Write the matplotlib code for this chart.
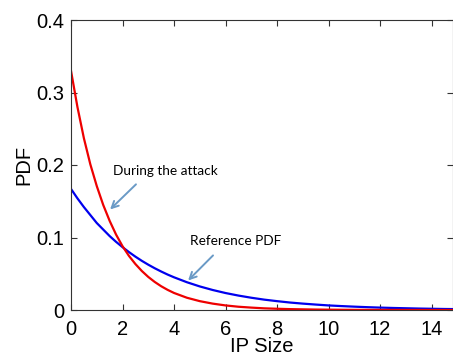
import matplotlib
matplotlib.use("Agg")
import matplotlib.pyplot as plt

# values
ip_size = [0, 0.25, 0.5, 0.75, 1, 1.25, 1.5, 1.75, 2, 2.25, 2.5, 2.75, 3, 3.25,
           3.5, 3.75, 4, 4.5, 5, 5.5, 6, 6.5, 7, 7.5, 8, 8.5, 9, 9.5, 10, 10.5,
           11, 11.5, 12, 12.5, 13, 13.5, 14, 14.5, 15]
pdf_attack = [0.330, 0.280, 0.237, 0.201, 0.171, 0.145, 0.123, 0.104, 0.088,
              0.0746, 0.0634, 0.0538, 0.0456, 0.0387, 0.0328, 0.0278, 0.0235,
              0.0169, 0.0122, 0.0088, 0.0063, 0.0045, 0.0033, 0.0023, 0.0017,
              0.0012, 0.0009, 0.0006, 0.00045, 0.0003, 0.0002, 0.00015, 0.0001,
              0.0001, 0.00005, 0.00005, 0.0, 0.0, 0.0]
pdf_reference = [0.167, 0.154, 0.142, 0.131, 0.120, 0.111, 0.102, 0.094, 0.0867,
                 0.0799, 0.0736, 0.0678, 0.0625, 0.0576, 0.0531, 0.0489, 0.0451,
                 0.0383, 0.0325, 0.0276, 0.0234, 0.0199, 0.0169, 0.0143, 0.0122,
                 0.0103, 0.0088, 0.0075, 0.0063, 0.0054, 0.0046, 0.0039, 0.0033,
                 0.0028, 0.0024, 0.0020, 0.0017, 0.0014, 0.0012]
x_ticks = [0, 2, 4, 6, 8, 10, 12, 14]
y_ticks = [0, 0.1, 0.2, 0.3, 0.4]
y_tick_labels = ["0", "0.1", "0.2", "0.3", "0.4"]

plt.rcParams['font.family'] = ['Liberation Sans', 'DejaVu Sans']

fig = plt.figure(figsize=(4.53, 3.58), dpi=100)
ax = fig.add_axes([71/453, 1 - 310/358, (453 - 71)/453, (310 - 20)/358])

ax.plot(ip_size, pdf_reference, color='#0000ee', lw=1.6)
ax.plot(ip_size, pdf_attack, color='#ee0000', lw=1.6)

ax.set_xlim(0, 14.83)
ax.set_ylim(0, 0.4)
ax.set_xticks(x_ticks)
ax.set_yticks(y_ticks)
ax.set_yticklabels(y_tick_labels)
ax.tick_params(direction='in', top=True, right=True, length=4, width=0.8,
               labelsize=14.5, color='#333333')
ax.tick_params(axis='x', pad=7)
ax.tick_params(axis='y', pad=5)
for s in ax.spines.values():
    s.set_color('#333333')
    s.set_linewidth(0.8)

ax.set_xlabel("IP Size", fontsize=14.5, labelpad=-1)
ax.set_ylabel("PDF", fontsize=14.5, labelpad=2)

arrow_col = '#6a9ac6'
ax.text(1.63, 0.192, "During the attack", fontsize=9.8, family=['Lato', 'DejaVu Sans'],
        va='center', ha='left')
ax.annotate('', xy=(1.44, 0.136), xytext=(2.60, 0.176),
            arrowprops=dict(arrowstyle='->', color=arrow_col, lw=1.4, mutation_scale=12))
ax.text(4.62, 0.095, "Reference PDF", fontsize=9.8, family=['Lato', 'DejaVu Sans'],
        va='center', ha='left')
ax.annotate('', xy=(4.47, 0.038), xytext=(5.59, 0.078),
            arrowprops=dict(arrowstyle='->', color=arrow_col, lw=1.4, mutation_scale=12))

fig.savefig("out.png", dpi=100)
